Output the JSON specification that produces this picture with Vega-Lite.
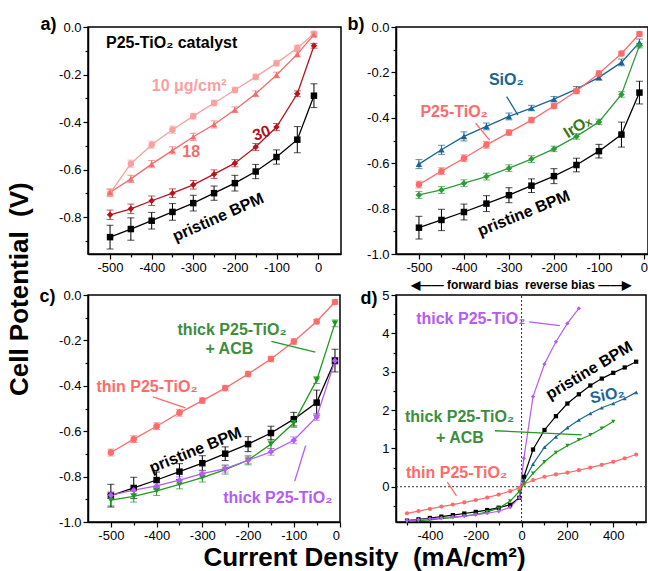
{
"$schema": "https://vega.github.io/schema/vega-lite/v6.json",
"padding": {"left": 7, "top": 14, "right": 0, "bottom": 0},
"background": "white",
"config": {
  "font": "Liberation Sans",
  "view": {"stroke": "black", "strokeWidth": 1.5},
  "axis": {"domainColor": "black", "domainWidth": 1.5, "tickColor": "black", "tickWidth": 1.2, "labelColor": "black", "labelFontSize": 13, "labelFont": "Liberation Sans", "grid": false, "titleColor": "black", "titleFont": "Liberation Sans"},
  "axisX": {"labelPadding": 2},
  "axisY": {"labelPadding": 2},
  "title": {"color": "black", "font": "Liberation Sans"},
  "text": {"font": "Liberation Sans"}
},
"datasets": {
  "pts": [
    {"s":"pristine","x":-500,"y":-0.884,"e":0.05},{"s":"pristine","x":-450,"y":-0.85,"e":0.047},{"s":"pristine","x":-400,"y":-0.815,"e":0.035},{"s":"pristine","x":-350,"y":-0.778,"e":0.035},{"s":"pristine","x":-300,"y":-0.741,"e":0.033},{"s":"pristine","x":-250,"y":-0.699,"e":0.03},{"s":"pristine","x":-200,"y":-0.657,"e":0.033},{"s":"pristine","x":-150,"y":-0.608,"e":0.03},{"s":"pristine","x":-100,"y":-0.547,"e":0.03},{"s":"pristine","x":-50,"y":-0.474,"e":0.055},{"s":"pristine","x":-10,"y":-0.289,"e":0.05},
    {"s":"pristine","x":10,"y":0.26,"e":0},{"s":"pristine","x":50,"y":0.97,"e":0},{"s":"pristine","x":100,"y":1.48,"e":0},{"s":"pristine","x":150,"y":1.84,"e":0},{"s":"pristine","x":200,"y":2.17,"e":0},{"s":"pristine","x":250,"y":2.41,"e":0},{"s":"pristine","x":300,"y":2.64,"e":0},{"s":"pristine","x":350,"y":2.82,"e":0},{"s":"pristine","x":400,"y":2.97,"e":0},{"s":"pristine","x":450,"y":3.11,"e":0},{"s":"pristine","x":500,"y":3.26,"e":0},
    {"s":"p10","x":-500,"y":-0.699,"e":0.015},{"s":"p10","x":-450,"y":-0.575,"e":0.015},{"s":"p10","x":-400,"y":-0.495,"e":0.015},{"s":"p10","x":-350,"y":-0.432,"e":0.015},{"s":"p10","x":-300,"y":-0.375,"e":0.012},{"s":"p10","x":-250,"y":-0.32,"e":0.012},{"s":"p10","x":-200,"y":-0.265,"e":0.012},{"s":"p10","x":-150,"y":-0.21,"e":0.012},{"s":"p10","x":-100,"y":-0.152,"e":0.012},{"s":"p10","x":-50,"y":-0.088,"e":0.012},{"s":"p10","x":-10,"y":-0.028,"e":0.01},
    {"s":"p18","x":-500,"y":-0.696,"e":0.015},{"s":"p18","x":-450,"y":-0.639,"e":0.015},{"s":"p18","x":-400,"y":-0.577,"e":0.015},{"s":"p18","x":-350,"y":-0.519,"e":0.015},{"s":"p18","x":-300,"y":-0.462,"e":0.015},{"s":"p18","x":-250,"y":-0.41,"e":0.015},{"s":"p18","x":-200,"y":-0.348,"e":0.012},{"s":"p18","x":-150,"y":-0.281,"e":0.012},{"s":"p18","x":-100,"y":-0.202,"e":0.012},{"s":"p18","x":-50,"y":-0.114,"e":0.012},{"s":"p18","x":-10,"y":-0.032,"e":0.01},
    {"s":"p30","x":-500,"y":-0.79,"e":0.02},{"s":"p30","x":-450,"y":-0.765,"e":0.02},{"s":"p30","x":-400,"y":-0.731,"e":0.02},{"s":"p30","x":-350,"y":-0.699,"e":0.018},{"s":"p30","x":-300,"y":-0.664,"e":0.018},{"s":"p30","x":-250,"y":-0.619,"e":0.018},{"s":"p30","x":-200,"y":-0.573,"e":0.015},{"s":"p30","x":-150,"y":-0.505,"e":0.015},{"s":"p30","x":-100,"y":-0.421,"e":0.015},{"s":"p30","x":-50,"y":-0.281,"e":0.012},{"s":"p30","x":-10,"y":-0.079,"e":0.01},
    {"s":"sio2","x":-500,"y":-0.604,"e":0.02},{"s":"sio2","x":-450,"y":-0.541,"e":0.02},{"s":"sio2","x":-400,"y":-0.482,"e":0.02},{"s":"sio2","x":-350,"y":-0.438,"e":0.015},{"s":"sio2","x":-300,"y":-0.394,"e":0.015},{"s":"sio2","x":-250,"y":-0.357,"e":0.012},{"s":"sio2","x":-200,"y":-0.318,"e":0.012},{"s":"sio2","x":-150,"y":-0.274,"e":0.012},{"s":"sio2","x":-100,"y":-0.222,"e":0.012},{"s":"sio2","x":-50,"y":-0.156,"e":0.015},{"s":"sio2","x":-10,"y":-0.068,"e":0.015},
    {"s":"sio2","x":10,"y":0.15,"e":0},{"s":"sio2","x":50,"y":0.59,"e":0},{"s":"sio2","x":100,"y":1.03,"e":0},{"s":"sio2","x":150,"y":1.3,"e":0},{"s":"sio2","x":200,"y":1.54,"e":0},{"s":"sio2","x":250,"y":1.74,"e":0},{"s":"sio2","x":300,"y":1.91,"e":0},{"s":"sio2","x":350,"y":2.06,"e":0},{"s":"sio2","x":400,"y":2.17,"e":0},{"s":"sio2","x":450,"y":2.3,"e":0},{"s":"sio2","x":500,"y":2.46,"e":0},
    {"s":"p25","x":-500,"y":-0.694,"e":0.015},{"s":"p25","x":-450,"y":-0.635,"e":0.015},{"s":"p25","x":-400,"y":-0.578,"e":0.015},{"s":"p25","x":-350,"y":-0.519,"e":0.015},{"s":"p25","x":-300,"y":-0.465,"e":0.012},{"s":"p25","x":-250,"y":-0.41,"e":0.012},{"s":"p25","x":-200,"y":-0.348,"e":0.012},{"s":"p25","x":-150,"y":-0.282,"e":0.012},{"s":"p25","x":-100,"y":-0.205,"e":0.012},{"s":"p25","x":-50,"y":-0.117,"e":0.01},{"s":"p25","x":-10,"y":-0.031,"e":0.01},
    {"s":"p25","x":10,"y":0.07,"e":0},{"s":"p25","x":50,"y":0.17,"e":0},{"s":"p25","x":100,"y":0.26,"e":0},{"s":"p25","x":150,"y":0.32,"e":0},{"s":"p25","x":200,"y":0.37,"e":0},{"s":"p25","x":250,"y":0.43,"e":0},{"s":"p25","x":300,"y":0.5,"e":0},{"s":"p25","x":350,"y":0.57,"e":0},{"s":"p25","x":400,"y":0.65,"e":0},{"s":"p25","x":450,"y":0.74,"e":0},{"s":"p25","x":500,"y":0.84,"e":0},
    {"s":"irox","x":-500,"y":-0.74,"e":0.015},{"s":"irox","x":-450,"y":-0.718,"e":0.015},{"s":"irox","x":-400,"y":-0.688,"e":0.015},{"s":"irox","x":-350,"y":-0.659,"e":0.015},{"s":"irox","x":-300,"y":-0.622,"e":0.015},{"s":"irox","x":-250,"y":-0.582,"e":0.015},{"s":"irox","x":-200,"y":-0.537,"e":0.012},{"s":"irox","x":-150,"y":-0.482,"e":0.012},{"s":"irox","x":-100,"y":-0.418,"e":0.012},{"s":"irox","x":-50,"y":-0.297,"e":0.012},{"s":"irox","x":-10,"y":-0.082,"e":0.01},
    {"s":"thickacb","x":-500,"y":-0.904,"e":0.025},{"s":"thickacb","x":-450,"y":-0.887,"e":0.025},{"s":"thickacb","x":-400,"y":-0.863,"e":0.02},{"s":"thickacb","x":-350,"y":-0.834,"e":0.02},{"s":"thickacb","x":-300,"y":-0.804,"e":0.02},{"s":"thickacb","x":-250,"y":-0.769,"e":0.02},{"s":"thickacb","x":-200,"y":-0.728,"e":0.02},{"s":"thickacb","x":-150,"y":-0.657,"e":0.02},{"s":"thickacb","x":-100,"y":-0.563,"e":0.02},{"s":"thickacb","x":-50,"y":-0.375,"e":0.015},{"s":"thickacb","x":-10,"y":-0.125,"e":0.015},
    {"s":"thickacb","x":10,"y":0.07,"e":0},{"s":"thickacb","x":50,"y":0.35,"e":0},{"s":"thickacb","x":100,"y":0.65,"e":0},{"s":"thickacb","x":150,"y":0.89,"e":0},{"s":"thickacb","x":200,"y":1.07,"e":0},{"s":"thickacb","x":250,"y":1.22,"e":0},{"s":"thickacb","x":300,"y":1.35,"e":0},{"s":"thickacb","x":350,"y":1.52,"e":0},{"s":"thickacb","x":400,"y":1.7,"e":0},
    {"s":"thick","x":-500,"y":-0.882,"e":0.015},{"s":"thick","x":-450,"y":-0.86,"e":0.015},{"s":"thick","x":-400,"y":-0.841,"e":0.015},{"s":"thick","x":-350,"y":-0.816,"e":0.015},{"s":"thick","x":-300,"y":-0.787,"e":0.015},{"s":"thick","x":-250,"y":-0.765,"e":0.015},{"s":"thick","x":-200,"y":-0.728,"e":0.015},{"s":"thick","x":-150,"y":-0.691,"e":0.015},{"s":"thick","x":-100,"y":-0.64,"e":0.015},{"s":"thick","x":-50,"y":-0.537,"e":0.015},{"s":"thick","x":-10,"y":-0.29,"e":0.015},
    {"s":"thick","x":10,"y":0.74,"e":0},{"s":"thick","x":50,"y":2.35,"e":0},{"s":"thick","x":100,"y":3.2,"e":0},{"s":"thick","x":150,"y":3.78,"e":0},{"s":"thick","x":200,"y":4.26,"e":0},{"s":"thick","x":250,"y":4.65,"e":0}
  ],
  "ann": [
    {"id":"a_cat","s":"pristine","label":"P25-TiO₂ catalyst","x":-352,"y":-0.067},
    {"id":"a_10","s":"p10","label":"10 μg/cm²","x":-310,"y":-0.248},
    {"id":"a_18","s":"p18","label":"18","x":-305,"y":-0.525},
    {"id":"a_30","s":"p30","label":"30","x":-136,"y":-0.447},
    {"id":"a_pb","s":"pristine","label":"pristine BPM","x":-240,"y":-0.801},
    {"id":"b_sio2","s":"sio2","label":"SiO₂","x":-306,"y":-0.233},
    {"id":"b_p25","s":"p25","label":"P25-TiO₂","x":-422,"y":-0.373},
    {"id":"b_ir","s":"iroxtxt","label":"IrOₓ","x":-148,"y":-0.439},
    {"id":"b_pb","s":"pristine","label":"pristine BPM","x":-267,"y":-0.821},
    {"id":"c_acb1","s":"acbtxt","label":"thick P25-TiO₂","x":-235,"y":-0.152},
    {"id":"c_acb2","s":"acbtxt","label":"+ ACB","x":-241,"y":-0.236},
    {"id":"c_thin","s":"p25","label":"thin P25-TiO₂","x":-421,"y":-0.405},
    {"id":"c_pb","s":"pristine","label":"pristine BPM","x":-315,"y":-0.684},
    {"id":"c_thick","s":"thick","label":"thick P25-TiO₂","x":-135,"y":-0.894},
    {"id":"d_thick","s":"thick","label":"thick P25-TiO₂","x":-222,"y":4.37},
    {"id":"d_pb","s":"pristine","label":"pristine BPM","x":295,"y":3.03},
    {"id":"d_sio2","s":"sio2","label":"SiO₂","x":374,"y":2.39},
    {"id":"d_acb1","s":"acbtxt","label":"thick P25-TiO₂","x":-271,"y":1.83},
    {"id":"d_acb2","s":"acbtxt","label":"+ ACB","x":-269,"y":1.28},
    {"id":"d_thin","s":"p25","label":"thin P25-TiO₂","x":-284,"y":0.365}
  ],
  "lead": [
    {"id":"b_l1","s":"sio2","x":-305,"y":-0.307,"x2":-280,"y2":-0.388},
    {"id":"b_l2","s":"p25","x":-374,"y":-0.424,"x2":-343,"y2":-0.498},
    {"id":"c_l1","s":"thickacb","x":-149,"y":-0.204,"x2":-53,"y2":-0.252},
    {"id":"c_l2","s":"p25","x":-408,"y":-0.449,"x2":-337,"y2":-0.497},
    {"id":"c_l3","s":"thick","x":-98,"y":-0.82,"x2":-74,"y2":-0.663},
    {"id":"d_l1","s":"thick","x":33,"y":4.3,"x2":167,"y2":4.2},
    {"id":"d_l2","s":"thickacb","x":-116,"y":1.46,"x2":262,"y2":1.35},
    {"id":"d_l3","s":"p25","x":-324,"y":0.12,"x2":-284,"y2":-0.24}
  ],
  "ref": [
    {"x":-548,"y":0,"x2":543,"y2":0},
    {"x":0,"y":-0.92,"x2":0,"y2":5}
  ]
},
"title": {"text": "Cell Potential\u00a0\u00a0(V)", "orient": "left", "anchor": "end", "fontSize": 26, "fontWeight": "bold", "offset": 5, "dx": -168},
"columns": 2,
"bounds": "flush",
"spacing": {"row": 41, "column": 55},
"concat": [
   {
    "width": 253, "height": 227,
    "encoding": {
      "x": {"field":"x","type":"quantitative","scale":{"domain":[-553,55],"nice":false,"zero":false},"axis":{"values":[-500,-450,-400,-350,-300,-250,-200,-150,-100,-50,0],"labelExpr":"datum.value % 100 == 0 ? (datum.value < 0 ? '-' + abs(datum.value) : '0') : ''","tickSize":{"condition":{"test":"datum.value % 100 != 0","value":3},"value":5},"title":null}},
      "y": {"field":"y","type":"quantitative","scale":{"domain":[-0.955,0],"nice":false,"zero":false},"axis":{"values":[0,-0.1,-0.2,-0.3,-0.4,-0.5,-0.6,-0.7,-0.8,-0.9],"labelExpr":"abs(round(datum.value*10)) % 2 == 1 ? '' : (datum.value < -0.01 ? '-' + format(abs(datum.value),'.1f') : '0.0')","tickSize":{"condition":{"test":"abs(round(datum.value*10)) % 2 == 1","value":3},"value":5},"title":"a)","titleAngle":0,"titleAlign":"right","titleBaseline":"middle","titleX":-32,"titleY":-3,"titleFontSize":18,"titleFontWeight":"bold"}}
    },
    "layer": [
      {"data":{"name":"pts"},"transform":[{"filter":"indexof(['pristine','p10','p18','p30'], datum.s) >= 0 && datum.x < 5"}],"mark":{"type":"errorbar","ticks":{"size":7},"thickness":1},"encoding":{"yError":{"field":"e"},"color":{"field":"s","type":"nominal","legend":null,"scale":{"domain":["pristine","p10","p18","p30","sio2","p25","irox","thickacb","thick","iroxtxt","acbtxt"],"range":["#000000","#F9A0A0","#F46C6C","#B5141C","#1B6592","#FF6A6A","#2E9A3A","#1E9A1E","#B45CF5","#3A7520","#3C8E3C"]}}}},
      {"data":{"name":"pts"},"transform":[{"filter":"indexof(['pristine','p10','p18','p30'], datum.s) >= 0 && datum.x < 5"}],"mark":{"type":"line","strokeWidth":1.3},"encoding":{"color":{"field":"s","type":"nominal","legend":null,"scale":{"domain":["pristine","p10","p18","p30","sio2","p25","irox","thickacb","thick","iroxtxt","acbtxt"],"range":["#000000","#F9A0A0","#F46C6C","#B5141C","#1B6592","#FF6A6A","#2E9A3A","#1E9A1E","#B45CF5","#3A7520","#3C8E3C"]}}}},
      {"data":{"name":"pts"},"transform":[{"filter":"indexof(['pristine','p10','p18','p30'], datum.s) >= 0 && datum.x < 5"}],"mark":{"type":"point","filled":true,"opacity":1,"size":42},"encoding":{"color":{"field":"s","type":"nominal","legend":null,"scale":{"domain":["pristine","p10","p18","p30","sio2","p25","irox","thickacb","thick","iroxtxt","acbtxt"],"range":["#000000","#F9A0A0","#F46C6C","#B5141C","#1B6592","#FF6A6A","#2E9A3A","#1E9A1E","#B45CF5","#3A7520","#3C8E3C"]}},"shape":{"field":"s","type":"nominal","legend":null,"scale":{"domain":["pristine","p10","p18","p30","sio2","p25","irox","thickacb","thick"],"range":["square","circle","triangle-up","diamond","triangle-up","circle","diamond","triangle-down","diamond"]}}}},
      {"data":{"name":"ann"},"transform":[{"filter":{"field":"id","oneOf":["a_cat","a_10","a_18"]}}],"mark":{"type":"text","fontSize":16,"fontWeight":"bold"},"encoding":{"text":{"field":"label"},"color":{"field":"s","type":"nominal","legend":null,"scale":{"domain":["pristine","p10","p18","p30","sio2","p25","irox","thickacb","thick","iroxtxt","acbtxt"],"range":["#000000","#F9A0A0","#F46C6C","#B5141C","#1B6592","#FF6A6A","#2E9A3A","#1E9A1E","#B45CF5","#3A7520","#3C8E3C"]}}}},
      {"data":{"name":"ann"},"transform":[{"filter":{"field":"id","oneOf":["a_30"]}}],"mark":{"type":"text","fontSize":16,"fontWeight":"bold","angle":-20},"encoding":{"text":{"field":"label"},"color":{"field":"s","type":"nominal","legend":null,"scale":{"domain":["pristine","p10","p18","p30","sio2","p25","irox","thickacb","thick","iroxtxt","acbtxt"],"range":["#000000","#F9A0A0","#F46C6C","#B5141C","#1B6592","#FF6A6A","#2E9A3A","#1E9A1E","#B45CF5","#3A7520","#3C8E3C"]}}}},
      {"data":{"name":"ann"},"transform":[{"filter":{"field":"id","oneOf":["a_pb"]}}],"mark":{"type":"text","fontSize":16,"fontWeight":"bold","angle":-24},"encoding":{"text":{"field":"label"},"color":{"field":"s","type":"nominal","legend":null,"scale":{"domain":["pristine","p10","p18","p30","sio2","p25","irox","thickacb","thick","iroxtxt","acbtxt"],"range":["#000000","#F9A0A0","#F46C6C","#B5141C","#1B6592","#FF6A6A","#2E9A3A","#1E9A1E","#B45CF5","#3A7520","#3C8E3C"]}}}}
    ]
   },
   {
    "width": 252, "height": 227,
    "encoding": {
      "x": {"field":"x","type":"quantitative","scale":{"domain":[-551,9],"nice":false,"zero":false},"axis":{"values":[-500,-450,-400,-350,-300,-250,-200,-150,-100,-50,0],"labelExpr":"datum.value % 100 == 0 ? (datum.value < 0 ? '-' + abs(datum.value) : '0') : ''","tickSize":{"condition":{"test":"datum.value % 100 != 0","value":3},"value":5},"title":null}},
      "y": {"field":"y","type":"quantitative","scale":{"domain":[-1,0],"nice":false,"zero":false},"axis":{"values":[0,-0.1,-0.2,-0.3,-0.4,-0.5,-0.6,-0.7,-0.8,-0.9,-1.0],"labelExpr":"abs(round(datum.value*10)) % 2 == 1 ? '' : (datum.value < -0.01 ? '-' + format(abs(datum.value),'.1f') : '0.0')","tickSize":{"condition":{"test":"abs(round(datum.value*10)) % 2 == 1","value":3},"value":5},"title":"b)","titleAngle":0,"titleAlign":"right","titleBaseline":"middle","titleX":-32,"titleY":-3,"titleFontSize":18,"titleFontWeight":"bold"}}
    },
    "layer": [
      {"data":{"name":"pts"},"transform":[{"filter":"indexof(['pristine','p25','sio2','irox'], datum.s) >= 0 && datum.x < 5"}],"mark":{"type":"errorbar","ticks":{"size":7},"thickness":1},"encoding":{"yError":{"field":"e"},"color":{"field":"s","type":"nominal","legend":null,"scale":{"domain":["pristine","p10","p18","p30","sio2","p25","irox","thickacb","thick","iroxtxt","acbtxt"],"range":["#000000","#F9A0A0","#F46C6C","#B5141C","#1B6592","#FF6A6A","#2E9A3A","#1E9A1E","#B45CF5","#3A7520","#3C8E3C"]}}}},
      {"data":{"name":"pts"},"transform":[{"filter":"indexof(['pristine','p25','sio2','irox'], datum.s) >= 0 && datum.x < 5"}],"mark":{"type":"line","strokeWidth":1.3},"encoding":{"color":{"field":"s","type":"nominal","legend":null,"scale":{"domain":["pristine","p10","p18","p30","sio2","p25","irox","thickacb","thick","iroxtxt","acbtxt"],"range":["#000000","#F9A0A0","#F46C6C","#B5141C","#1B6592","#FF6A6A","#2E9A3A","#1E9A1E","#B45CF5","#3A7520","#3C8E3C"]}}}},
      {"data":{"name":"pts"},"transform":[{"filter":"indexof(['pristine','p25','sio2','irox'], datum.s) >= 0 && datum.x < 5"}],"mark":{"type":"point","filled":true,"opacity":1,"size":42},"encoding":{"color":{"field":"s","type":"nominal","legend":null,"scale":{"domain":["pristine","p10","p18","p30","sio2","p25","irox","thickacb","thick","iroxtxt","acbtxt"],"range":["#000000","#F9A0A0","#F46C6C","#B5141C","#1B6592","#FF6A6A","#2E9A3A","#1E9A1E","#B45CF5","#3A7520","#3C8E3C"]}},"shape":{"field":"s","type":"nominal","legend":null,"scale":{"domain":["pristine","p10","p18","p30","sio2","p25","irox","thickacb","thick"],"range":["square","circle","triangle-up","diamond","triangle-up","circle","diamond","triangle-down","diamond"]}}}},
      {"data":{"name":"lead"},"transform":[{"filter":{"field":"id","oneOf":["b_l1","b_l2"]}}],"mark":{"type":"rule","strokeWidth":1.3},"encoding":{"x2":{"field":"x2"},"y2":{"field":"y2"},"color":{"field":"s","type":"nominal","legend":null,"scale":{"domain":["pristine","p10","p18","p30","sio2","p25","irox","thickacb","thick","iroxtxt","acbtxt"],"range":["#000000","#F9A0A0","#F46C6C","#B5141C","#1B6592","#FF6A6A","#2E9A3A","#1E9A1E","#B45CF5","#3A7520","#3C8E3C"]}}}},
      {"data":{"name":"ann"},"transform":[{"filter":{"field":"id","oneOf":["b_sio2","b_p25"]}}],"mark":{"type":"text","fontSize":16,"fontWeight":"bold"},"encoding":{"text":{"field":"label"},"color":{"field":"s","type":"nominal","legend":null,"scale":{"domain":["pristine","p10","p18","p30","sio2","p25","irox","thickacb","thick","iroxtxt","acbtxt"],"range":["#000000","#F9A0A0","#F46C6C","#B5141C","#1B6592","#FF6A6A","#2E9A3A","#1E9A1E","#B45CF5","#3A7520","#3C8E3C"]}}}},
      {"data":{"name":"ann"},"transform":[{"filter":{"field":"id","oneOf":["b_ir"]}}],"mark":{"type":"text","fontSize":16,"fontWeight":"bold","angle":-32},"encoding":{"text":{"field":"label"},"color":{"field":"s","type":"nominal","legend":null,"scale":{"domain":["pristine","p10","p18","p30","sio2","p25","irox","thickacb","thick","iroxtxt","acbtxt"],"range":["#000000","#F9A0A0","#F46C6C","#B5141C","#1B6592","#FF6A6A","#2E9A3A","#1E9A1E","#B45CF5","#3A7520","#3C8E3C"]}}}},
      {"data":{"name":"ann"},"transform":[{"filter":{"field":"id","oneOf":["b_pb"]}}],"mark":{"type":"text","fontSize":16,"fontWeight":"bold","angle":-22},"encoding":{"text":{"field":"label"},"color":{"field":"s","type":"nominal","legend":null,"scale":{"domain":["pristine","p10","p18","p30","sio2","p25","irox","thickacb","thick","iroxtxt","acbtxt"],"range":["#000000","#F9A0A0","#F46C6C","#B5141C","#1B6592","#FF6A6A","#2E9A3A","#1E9A1E","#B45CF5","#3A7520","#3C8E3C"]}}}}
    ]
   },
   {
    "width": 252, "height": 227,
    "encoding": {
      "x": {"field":"x","type":"quantitative","scale":{"domain":[-550,1],"nice":false,"zero":false},"axis":{"values":[-500,-450,-400,-350,-300,-250,-200,-150,-100,-50,0],"labelExpr":"datum.value % 100 == 0 ? (datum.value < 0 ? '-' + abs(datum.value) : '0') : ''","tickSize":{"condition":{"test":"datum.value % 100 != 0","value":3},"value":5},"title":"Current Density\u00a0\u00a0(mA/cm²)","titleFontSize":26,"titleFontWeight":"bold","titleX":276,"titleY":43,"titleAlign":"center","titleBaseline":"alphabetic"}},
      "y": {"field":"y","type":"quantitative","scale":{"domain":[-1,0],"nice":false,"zero":false},"axis":{"values":[0,-0.1,-0.2,-0.3,-0.4,-0.5,-0.6,-0.7,-0.8,-0.9,-1.0],"labelExpr":"abs(round(datum.value*10)) % 2 == 1 ? '' : (datum.value < -0.01 ? '-' + format(abs(datum.value),'.1f') : '0.0')","tickSize":{"condition":{"test":"abs(round(datum.value*10)) % 2 == 1","value":3},"value":5},"title":"c)","titleAngle":0,"titleAlign":"right","titleBaseline":"middle","titleX":-33,"titleY":1,"titleFontSize":18,"titleFontWeight":"bold"}}
    },
    "layer": [
      {"data":{"name":"pts"},"transform":[{"filter":"indexof(['pristine','p25','thick','thickacb'], datum.s) >= 0 && datum.x < 5"}],"mark":{"type":"errorbar","ticks":{"size":7},"thickness":1},"encoding":{"yError":{"field":"e"},"color":{"field":"s","type":"nominal","legend":null,"scale":{"domain":["pristine","p10","p18","p30","sio2","p25","irox","thickacb","thick","iroxtxt","acbtxt"],"range":["#000000","#F9A0A0","#F46C6C","#B5141C","#1B6592","#FF6A6A","#2E9A3A","#1E9A1E","#B45CF5","#3A7520","#3C8E3C"]}}}},
      {"data":{"name":"pts"},"transform":[{"filter":"indexof(['pristine','p25','thick','thickacb'], datum.s) >= 0 && datum.x < 5"}],"mark":{"type":"line","strokeWidth":1.3},"encoding":{"color":{"field":"s","type":"nominal","legend":null,"scale":{"domain":["pristine","p10","p18","p30","sio2","p25","irox","thickacb","thick","iroxtxt","acbtxt"],"range":["#000000","#F9A0A0","#F46C6C","#B5141C","#1B6592","#FF6A6A","#2E9A3A","#1E9A1E","#B45CF5","#3A7520","#3C8E3C"]}}}},
      {"data":{"name":"pts"},"transform":[{"filter":"indexof(['pristine','p25','thick','thickacb'], datum.s) >= 0 && datum.x < 5"}],"mark":{"type":"point","filled":true,"opacity":1,"size":42},"encoding":{"color":{"field":"s","type":"nominal","legend":null,"scale":{"domain":["pristine","p10","p18","p30","sio2","p25","irox","thickacb","thick","iroxtxt","acbtxt"],"range":["#000000","#F9A0A0","#F46C6C","#B5141C","#1B6592","#FF6A6A","#2E9A3A","#1E9A1E","#B45CF5","#3A7520","#3C8E3C"]}},"shape":{"field":"s","type":"nominal","legend":null,"scale":{"domain":["pristine","p10","p18","p30","sio2","p25","irox","thickacb","thick"],"range":["square","circle","triangle-up","diamond","triangle-up","circle","diamond","triangle-down","diamond"]}}}},
      {"data":{"name":"lead"},"transform":[{"filter":{"field":"id","oneOf":["c_l1","c_l2","c_l3"]}}],"mark":{"type":"rule","strokeWidth":1.3},"encoding":{"x2":{"field":"x2"},"y2":{"field":"y2"},"color":{"field":"s","type":"nominal","legend":null,"scale":{"domain":["pristine","p10","p18","p30","sio2","p25","irox","thickacb","thick","iroxtxt","acbtxt"],"range":["#000000","#F9A0A0","#F46C6C","#B5141C","#1B6592","#FF6A6A","#2E9A3A","#1E9A1E","#B45CF5","#3A7520","#3C8E3C"]}}}},
      {"data":{"name":"ann"},"transform":[{"filter":{"field":"id","oneOf":["c_acb1","c_acb2","c_thin","c_thick"]}}],"mark":{"type":"text","fontSize":16,"fontWeight":"bold"},"encoding":{"text":{"field":"label"},"color":{"field":"s","type":"nominal","legend":null,"scale":{"domain":["pristine","p10","p18","p30","sio2","p25","irox","thickacb","thick","iroxtxt","acbtxt"],"range":["#000000","#F9A0A0","#F46C6C","#B5141C","#1B6592","#FF6A6A","#2E9A3A","#1E9A1E","#B45CF5","#3A7520","#3C8E3C"]}}}},
      {"data":{"name":"ann"},"transform":[{"filter":{"field":"id","oneOf":["c_pb"]}}],"mark":{"type":"text","fontSize":16,"fontWeight":"bold","angle":-22},"encoding":{"text":{"field":"label"},"color":{"field":"s","type":"nominal","legend":null,"scale":{"domain":["pristine","p10","p18","p30","sio2","p25","irox","thickacb","thick","iroxtxt","acbtxt"],"range":["#000000","#F9A0A0","#F46C6C","#B5141C","#1B6592","#FF6A6A","#2E9A3A","#1E9A1E","#B45CF5","#3A7520","#3C8E3C"]}}}}
    ]
   },
   {
    "width": 250, "height": 227,
    "title": {"text": "◀—— forward bias\u00a0\u00a0reverse bias ——▶", "fontSize": 12, "fontWeight": "bold", "offset": -3},
    "encoding": {
      "x": {"field":"x","type":"quantitative","scale":{"domain":[-548,543],"nice":false,"zero":false},"axis":{"values":[-500,-400,-300,-200,-100,0,100,200,300,400,500],"labelExpr":"datum.value % 200 == 0 ? (datum.value < 0 ? '-' + abs(datum.value) : '' + datum.value) : ''","tickSize":{"condition":{"test":"datum.value % 200 != 0","value":3},"value":5},"title":null}},
      "y": {"field":"y","type":"quantitative","scale":{"domain":[-0.92,5],"nice":false,"zero":false},"axis":{"values":[-0.5,0,0.5,1,1.5,2,2.5,3,3.5,4,4.5,5],"labelExpr":"round(datum.value*2) % 2 != 0 ? '' : '' + round(datum.value)","tickSize":{"condition":{"test":"round(datum.value*2) % 2 != 0","value":3},"value":5},"title":"d)","titleAngle":0,"titleAlign":"right","titleBaseline":"middle","titleX":-19,"titleY":3,"titleFontSize":18,"titleFontWeight":"bold"}}
    },
    "layer": [
      {"data":{"name":"ref"},"mark":{"type":"rule","strokeWidth":1,"strokeDash":[2,2],"color":"#333333"},"encoding":{"x2":{"field":"x2"},"y2":{"field":"y2"}}},
      {"data":{"name":"pts"},"transform":[{"filter":"indexof(['pristine','p25','thick','thickacb','sio2'], datum.s) >= 0 && !(datum.s == 'sio2' && datum.x < 0)"}],"mark":{"type":"line","strokeWidth":1.2},"encoding":{"color":{"field":"s","type":"nominal","legend":null,"scale":{"domain":["pristine","p10","p18","p30","sio2","p25","irox","thickacb","thick","iroxtxt","acbtxt"],"range":["#000000","#F9A0A0","#F46C6C","#B5141C","#1B6592","#FF6A6A","#2E9A3A","#1E9A1E","#B45CF5","#3A7520","#3C8E3C"]}}}},
      {"data":{"name":"pts"},"transform":[{"filter":"indexof(['pristine','p25','thick','thickacb','sio2'], datum.s) >= 0 && !(datum.s == 'sio2' && datum.x < 0)"}],"mark":{"type":"point","filled":true,"opacity":1,"size":18},"encoding":{"color":{"field":"s","type":"nominal","legend":null,"scale":{"domain":["pristine","p10","p18","p30","sio2","p25","irox","thickacb","thick","iroxtxt","acbtxt"],"range":["#000000","#F9A0A0","#F46C6C","#B5141C","#1B6592","#FF6A6A","#2E9A3A","#1E9A1E","#B45CF5","#3A7520","#3C8E3C"]}},"shape":{"field":"s","type":"nominal","legend":null,"scale":{"domain":["pristine","p10","p18","p30","sio2","p25","irox","thickacb","thick"],"range":["square","circle","triangle-up","diamond","triangle-up","circle","diamond","triangle-down","diamond"]}}}},
      {"data":{"name":"lead"},"transform":[{"filter":{"field":"id","oneOf":["d_l1","d_l2","d_l3"]}}],"mark":{"type":"rule","strokeWidth":1.3},"encoding":{"x2":{"field":"x2"},"y2":{"field":"y2"},"color":{"field":"s","type":"nominal","legend":null,"scale":{"domain":["pristine","p10","p18","p30","sio2","p25","irox","thickacb","thick","iroxtxt","acbtxt"],"range":["#000000","#F9A0A0","#F46C6C","#B5141C","#1B6592","#FF6A6A","#2E9A3A","#1E9A1E","#B45CF5","#3A7520","#3C8E3C"]}}}},
      {"data":{"name":"ann"},"transform":[{"filter":{"field":"id","oneOf":["d_thick","d_acb1","d_acb2","d_thin"]}}],"mark":{"type":"text","fontSize":16,"fontWeight":"bold"},"encoding":{"text":{"field":"label"},"color":{"field":"s","type":"nominal","legend":null,"scale":{"domain":["pristine","p10","p18","p30","sio2","p25","irox","thickacb","thick","iroxtxt","acbtxt"],"range":["#000000","#F9A0A0","#F46C6C","#B5141C","#1B6592","#FF6A6A","#2E9A3A","#1E9A1E","#B45CF5","#3A7520","#3C8E3C"]}}}},
      {"data":{"name":"ann"},"transform":[{"filter":{"field":"id","oneOf":["d_pb"]}}],"mark":{"type":"text","fontSize":16,"fontWeight":"bold","angle":-31},"encoding":{"text":{"field":"label"},"color":{"field":"s","type":"nominal","legend":null,"scale":{"domain":["pristine","p10","p18","p30","sio2","p25","irox","thickacb","thick","iroxtxt","acbtxt"],"range":["#000000","#F9A0A0","#F46C6C","#B5141C","#1B6592","#FF6A6A","#2E9A3A","#1E9A1E","#B45CF5","#3A7520","#3C8E3C"]}}}},
      {"data":{"name":"ann"},"transform":[{"filter":{"field":"id","oneOf":["d_sio2"]}}],"mark":{"type":"text","fontSize":16,"fontWeight":"bold","angle":-12},"encoding":{"text":{"field":"label"},"color":{"field":"s","type":"nominal","legend":null,"scale":{"domain":["pristine","p10","p18","p30","sio2","p25","irox","thickacb","thick","iroxtxt","acbtxt"],"range":["#000000","#F9A0A0","#F46C6C","#B5141C","#1B6592","#FF6A6A","#2E9A3A","#1E9A1E","#B45CF5","#3A7520","#3C8E3C"]}}}}
    ]
   }
]
}
